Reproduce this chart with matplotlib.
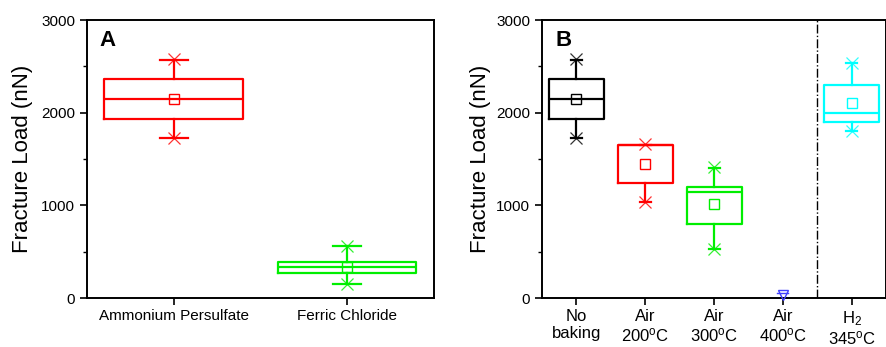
import matplotlib
matplotlib.use("Agg")
import matplotlib.pyplot as plt
from matplotlib.ticker import MultipleLocator

plt.rcParams['font.family'] = ['Liberation Sans', 'DejaVu Sans']
plt.rcParams['mathtext.fontset'] = 'custom'
plt.rcParams['mathtext.rm'] = 'Liberation Sans'
plt.rcParams['mathtext.it'] = 'Liberation Sans'

# Panel A: etchant comparison
a_labels = ["Ammonium Persulfate", "Ferric Chloride"]
a_colors = ["#ff0000", "#00ee00"]
a_q1 = [1932, 273]
a_med = [2147, 331]
a_q3 = [2366, 392]
a_whislo = [1730, 151]
a_whishi = [2568, 561]
a_mean = [2150, 340]
a_min = [1725, 151]
a_max = [2580, 561]

# Panel B: baking conditions
b_labels = ["No\nbaking", "Air\n200$^{\\rm o}$C", "Air\n300$^{\\rm o}$C",
            "Air\n400$^{\\rm o}$C", "H$_2$\n345$^{\\rm o}$C"]
b_colors = ["#000000", "#ff0000", "#00ee00", "#4040ff", "#00ffff"]
b_q1 = [1932, 1244, 798, 0, 1896]
b_med = [2147, 1651, 1147, 0, 1998]
b_q3 = [2366, 1651, 1201, 0, 2298]
b_whislo = [1730, 1039, 525, 0, 1802]
b_whishi = [2568, 1651, 1400, 0, 2532]
b_mean = [2150, 1446, 1014, 0, 2104]
b_min = [1725, 1039, 525, 0, 1802]
b_max = [2580, 1660, 1410, 0, 2540]


def draw_panel(ax, labels, colors, q1, med, q3, wlo, whi, mean, vmin, vmax,
               xfs=11):
    pos = list(range(1, len(labels) + 1))
    for i, p in enumerate(pos):
        c = colors[i]
        stats = [dict(med=med[i], q1=q1[i], q3=q3[i], whislo=wlo[i],
                      whishi=whi[i], mean=mean[i], fliers=[])]
        if q3[i] - q1[i] > 0:
            ax.bxp(stats, positions=[p], widths=0.8, showmeans=True,
                   showfliers=False, manage_ticks=False,
                   boxprops=dict(color=c, lw=1.6),
                   medianprops=dict(color=c, lw=1.6),
                   whiskerprops=dict(color=c, lw=1.6),
                   capprops=dict(color=c, lw=1.6),
                   capwidths=0.16,
                   meanprops=dict(marker='s', markerfacecolor='none',
                                  markeredgecolor=c, markersize=7, mew=1.0))
            ax.plot([p, p], [vmin[i], vmax[i]], ls='none', marker='x',
                    color=c, markersize=8, mew=0.9, alpha=0.8)
        else:
            # collapsed box at zero
            ax.plot([p], [vmin[i] + 30], marker='v', color=c,
                    markerfacecolor='none', markersize=7, mew=1.0,
                    clip_on=False, zorder=5)
            ax.plot([p - 0.08, p + 0.08], [vmin[i] + 55, vmin[i] + 55],
                    color=c, lw=1.0, clip_on=False, zorder=5)
    ax.set_xlim(0.5, len(labels) + 0.5)
    ax.set_ylim(0, 3000)
    ax.set_xticks(pos)
    ax.set_xticklabels(labels, fontsize=xfs, linespacing=1.12)
    ax.yaxis.set_major_locator(MultipleLocator(1000))
    ax.yaxis.set_minor_locator(MultipleLocator(500))
    ax.tick_params(axis='both', which='major', direction='out', length=5,
                   width=1.2, labelsize=11)
    ax.tick_params(axis='x', labelsize=xfs, pad=3)
    ax.tick_params(axis='y', which='minor', direction='out', length=3, width=1)
    for s in ax.spines.values():
        s.set_linewidth(1.4)
    ax.set_ylabel("Fracture Load (nN)", fontsize=16, labelpad=6)


fig = plt.figure(figsize=(8.87, 3.47), dpi=100)
ax1 = fig.add_axes([0.098, 0.141, 0.391, 0.801])
ax2 = fig.add_axes([0.611, 0.141, 0.388, 0.801])

draw_panel(ax1, a_labels, a_colors, a_q1, a_med, a_q3, a_whislo, a_whishi,
           a_mean, a_min, a_max, xfs=11)
draw_panel(ax2, b_labels, b_colors, b_q1, b_med, b_q3, b_whislo, b_whishi,
           b_mean, b_min, b_max, xfs=12)

ax1.text(0.035, 0.965, "A", transform=ax1.transAxes, fontsize=16,
         fontweight='bold', va='top')
ax2.text(0.04, 0.965, "B", transform=ax2.transAxes, fontsize=16,
         fontweight='bold', va='top')
ax2.axvline(4.5, color='black', lw=1.0, ls='-.')
ax2.yaxis.labelpad = 4

fig.savefig("out.png", dpi=100)
